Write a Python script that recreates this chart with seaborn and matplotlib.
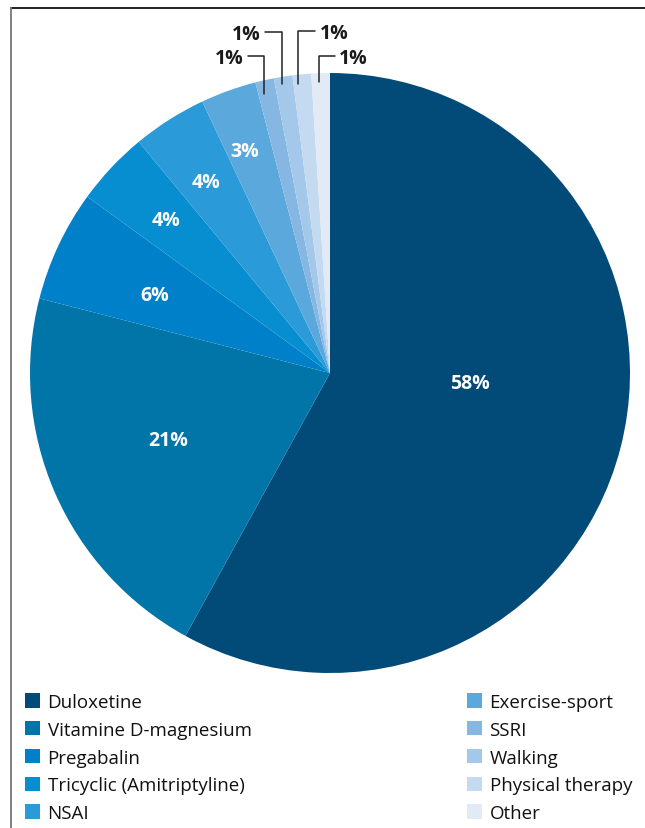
import matplotlib
matplotlib.use("Agg")
import matplotlib.pyplot as plt
import seaborn as sns
from matplotlib.lines import Line2D
from matplotlib.patches import Patch

sns.set_theme(style="white")
plt.rcParams['font.family'] = ['Open Sans', 'DejaVu Sans']

# ---- data ----
categories = ["Duloxetine", "Vitamine D-magnesium", "Pregabalin", "Tricyclic (Amitriptyline)",
              "NSAI", "Exercise-sport", "SSRI", "Walking", "Physical therapy", "Other"]
values = [58, 21, 6, 4, 4, 3, 1, 1, 1, 1]
pct_labels = ["58%", "21%", "6%", "4%", "4%", "3%", "1%", "1%", "1%", "1%"]

colors = ["#024B78", "#0174A8", "#0180CA", "#068ED0", "#2A9AD8",
          "#5BA8DC", "#86B7E2", "#A4C8EA", "#C4DAF0", "#E2EAF5"]

W, H = 645, 829
fig = plt.figure(figsize=(W / 100, H / 100), dpi=100)

cx, cy, R = 330, 374, 300
ax = fig.add_axes([(cx - R) / W, (H - cy - R) / H, 2 * R / W, 2 * R / H])
wedges, _ = ax.pie(values, colors=colors, startangle=90, counterclock=False,
                   radius=1, wedgeprops=dict(linewidth=0))
ax.set_xlim(-1, 1)
ax.set_ylim(-1, 1)
ax.set_aspect('equal')
ax.axis('off')


def px(x, y):
    return (x - cx) / R, (cy - y) / R


# inside labels (pixel positions)
inside_pos = [(470, 384), (168, 441), (155, 296), (166, 221), (206, 183), (245, 152)]
for lab, (x, y) in zip(pct_labels[:6], inside_pos):
    ax.text(*px(x, y), lab, color="white", fontsize=14, fontweight="bold",
            ha="center", va="center")

# outside labels with leader lines: (line points in px, text pos, ha)
leaders = [
    ([(264, 95), (264, 57), (248, 57)], (244, 59), "right"),
    ([(282, 85), (282, 33), (265, 33)], (261, 35), "right"),
    ([(298, 85), (298, 32), (315, 32)], (320, 34), "left"),
    ([(319, 83), (319, 57), (335, 57)], (339, 59), "left"),
]
for lab, (pts, tpos, ha) in zip(pct_labels[6:], leaders):
    xs, ys = zip(*[px(*p) for p in pts])
    ax.plot(xs, ys, color="#222222", lw=1.1, clip_on=False)
    ax.text(*px(*tpos), lab, color="#1a1a1a", fontsize=14, fontweight="bold",
            ha=ha, va="center", clip_on=False)

# legends
handles = [Patch(facecolor=c, edgecolor='none') for c in colors]
common = dict(frameon=False, fontsize=13.5, handlelength=0.8, handleheight=0.8,
              handletextpad=0.4, labelspacing=0.52, borderpad=0, borderaxespad=0,
              labelcolor="#111111")
leg1 = fig.legend(handles[:5], categories[:5], loc="upper left",
                  bbox_to_anchor=(25 / W, 1 - 694 / H), **common)
leg2 = fig.legend(handles[5:], categories[5:], loc="upper left",
                  bbox_to_anchor=(467 / W, 1 - 694 / H), **common)

# frame lines
fig.add_artist(Line2D([11 / W, 1], [1 - 9 / H, 1 - 9 / H], color="#111111", lw=1.3))
fig.add_artist(Line2D([11 / W, 11 / W], [0, 1 - 9 / H], color="#777777", lw=1.3))

fig.savefig("out.png", dpi=100)
